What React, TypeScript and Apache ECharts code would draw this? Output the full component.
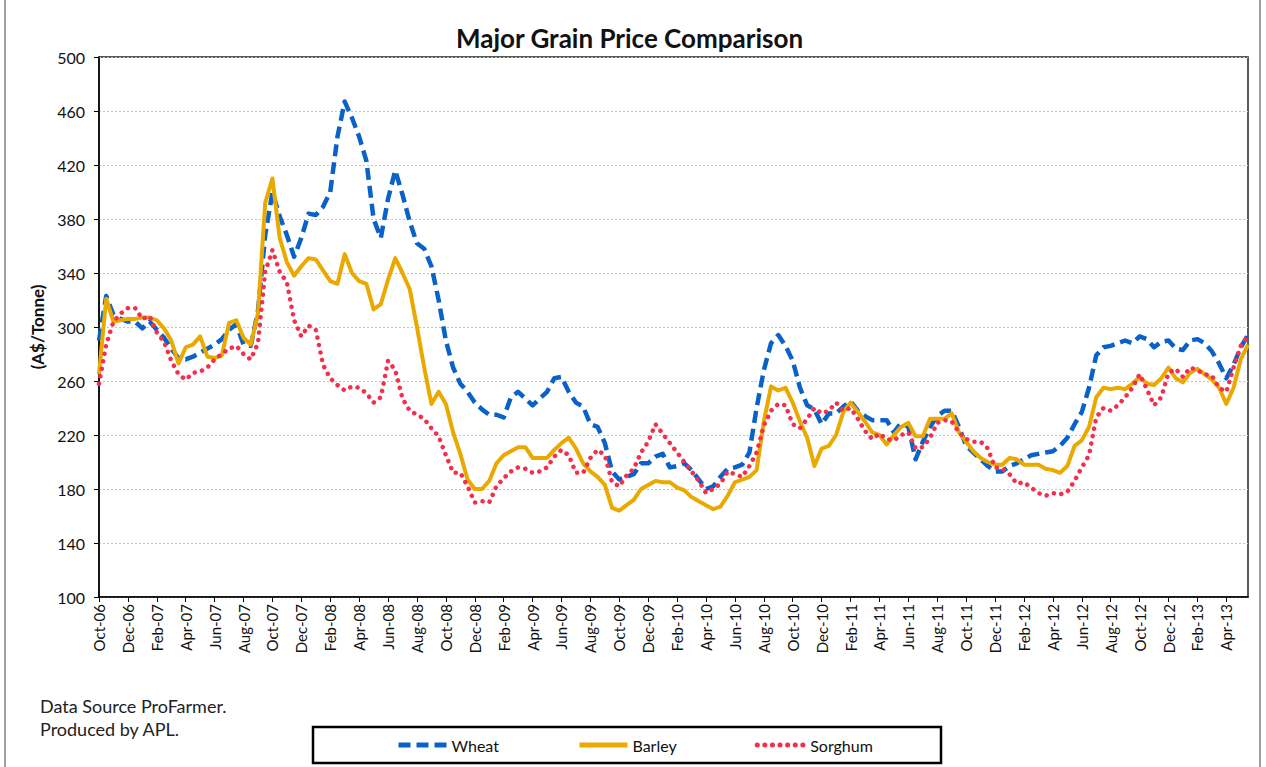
import React, { useEffect, useRef } from "react";
import * as echarts from "echarts";

// Half-monthly observations from Oct-06 to mid May-13
const MONTH_NAMES = ["Jan", "Feb", "Mar", "Apr", "May", "Jun", "Jul", "Aug", "Sep", "Oct", "Nov", "Dec"];
const START_MONTH = 9; // Oct
const START_YEAR = 6; // 2006
const POINT_COUNT = 160;

const categories: string[] = [];
for (let i = 0; i < POINT_COUNT; i++) {
  const m = START_MONTH + Math.floor(i / 2);
  const label = MONTH_NAMES[m % 12] + "-" + String(START_YEAR + Math.floor(m / 12)).padStart(2, "0");
  categories.push(i % 2 === 0 ? label : label + " mid");
}

const yTicks = { min: 100, max: 500, interval: 40 };

const wheat = [
  290, 323, 309, 306, 304, 304, 299, 304, 298, 292,
  284, 277, 276, 278, 281, 284, 287, 291, 298, 302,
  287, 286, 312, 368, 400, 382, 368, 352, 366, 384,
  383, 389, 400, 441, 467, 455, 441, 423, 380, 366,
  395, 416, 398, 378, 362, 358, 345, 320, 290, 270,
  258, 252, 244, 239, 235, 235, 233, 248, 252, 247,
  242, 247, 252, 262, 263, 252, 244, 241, 228, 226,
  214, 193, 187, 189, 191, 199, 199, 204, 206, 196,
  197, 199, 194, 187, 180, 182, 189, 195, 196, 198,
  207, 240, 268, 288, 294, 286, 275, 255, 242, 239,
  228, 236, 236, 241, 245, 238, 234, 231, 231, 231,
  222, 229, 226, 202, 215, 226, 234, 238, 238, 226,
  212, 207, 202, 197, 193, 193, 197, 199, 202, 205,
  206, 207, 208, 212, 218, 228, 237, 255, 279, 285,
  286, 288, 290, 288, 293, 291, 285, 289, 290, 284,
  283, 290, 291, 288, 282, 273, 262, 272, 285, 294,
];

const barley = [
  265, 321, 304, 305, 306, 306, 307, 307, 305, 299,
  290, 273, 285, 287, 293, 278, 277, 279, 303, 305,
  292, 287, 310, 392, 410, 366, 348, 338, 345, 351,
  350, 342, 334, 332, 354, 340, 334, 332, 313, 317,
  335, 351, 340, 328, 300, 270, 243, 252, 243, 222,
  206, 187, 180, 180, 186, 199, 205, 208, 211, 211,
  203, 203, 203, 209, 214, 218, 210, 199, 193, 189,
  183, 166, 164, 168, 172, 180, 183, 186, 185, 185,
  181, 179, 174, 171, 168, 165, 167, 175, 185, 187,
  189, 194, 230, 256, 253, 255, 244, 230, 218, 197,
  210, 212, 220, 237, 244, 237, 230, 222, 220, 213,
  220, 226, 229, 219, 219, 232, 232, 232, 236, 222,
  215, 208, 203, 200, 198, 198, 203, 202, 198, 198,
  198, 195, 194, 192, 197, 212, 216, 226, 248, 255,
  254, 255, 254, 258, 263, 258, 257, 262, 270, 262,
  259, 266, 269, 265, 261, 255, 243, 255, 276, 287,
];

const sorghum = [
  258, 287, 304, 310, 314, 314, 306, 308, 296, 289,
  275, 265, 261, 266, 267, 270, 276, 280, 284, 286,
  280, 276, 288, 341, 357, 341, 333, 305, 293, 301,
  298, 272, 262, 257, 253, 256, 255, 251, 244, 248,
  275, 268, 247, 238, 235, 232, 225, 219, 205, 192,
  192, 182, 170, 171, 170, 182, 188, 193, 196, 195,
  192, 193, 196, 204, 209, 205, 192, 192, 203, 209,
  205, 185, 182, 190, 195, 207, 215, 228, 221, 214,
  207, 200, 193, 186, 177, 180, 184, 193, 191, 189,
  197, 207, 227, 238, 243, 242, 228, 225, 232, 240,
  236, 238, 244, 238, 240, 232, 223, 217, 221, 217,
  216, 220, 222, 210, 211, 218, 229, 231, 230, 222,
  217, 215, 215, 210, 196, 195, 191, 184, 185, 181,
  177, 175, 177, 176, 178, 186, 196, 205, 233, 240,
  238, 242, 248, 255, 265, 254, 242, 248, 266, 269,
  263, 270, 268, 265, 264, 255, 252, 270, 286, 293,
];

const FONT = "Lato, 'Open Sans', sans-serif";

export default function App() {
  const ref = useRef<HTMLDivElement>(null);

  useEffect(() => {
    document.body.style.margin = "0";
    if (!ref.current) return;
    const chart = echarts.init(ref.current, null, { renderer: "svg" });
    const tickEvery = (idx: number) => idx % 4 === 0;

    chart.setOption({
      animation: false,
      backgroundColor: "#ffffff",
      textStyle: { fontFamily: FONT },
      title: {
        text: "Major Grain Price Comparison",
        left: 451,
        top: 20,
        textStyle: { fontFamily: FONT, fontSize: 26, fontWeight: "bold", color: "#111" },
      },
      grid: {
        left: 99,
        right: 18,
        top: 57,
        height: 540,
        show: true,
        borderColor: "#222",
        borderWidth: 1.5,
        backgroundColor: "#ffffff",
      },
      legend: {
        left: 391,
        top: 732,
        itemWidth: 48,
        itemHeight: 16,
        itemGap: 78,
        itemStyle: { opacity: 0 },
        lineStyle: { width: 5 },
        textStyle: { fontFamily: FONT, fontSize: 16, color: "#111" },
        data: ["Wheat", "Barley", "Sorghum"],
      },
      xAxis: {
        type: "category",
        data: categories,
        boundaryGap: false,
        axisLine: { lineStyle: { color: "#000", width: 1.5 } },
        axisTick: { show: true, interval: tickEvery, length: 5, lineStyle: { color: "#000" } },
        axisLabel: {
          interval: tickEvery,
          rotate: 90,
          margin: 7,
          fontFamily: FONT,
          fontSize: 15,
          color: "#111",
        },
        splitLine: { show: false },
      },
      yAxis: {
        type: "value",
        min: yTicks.min,
        max: yTicks.max,
        interval: yTicks.interval,
        name: "(A$/Tonne)",
        nameLocation: "middle",
        nameGap: 53,
        nameRotate: 90,
        nameTextStyle: { fontFamily: FONT, fontSize: 17, fontWeight: "bold", color: "#111" },
        axisLine: { show: true, lineStyle: { color: "#000", width: 1.5 } },
        axisTick: { show: true, length: 5, lineStyle: { color: "#000" } },
        axisLabel: { margin: 14, fontFamily: FONT, fontSize: 16, color: "#111" },
        splitLine: { show: true, lineStyle: { color: "#c4c4c4", type: [2, 2], width: 1 } },
      },
      graphic: [
        {
          type: "rect",
          shape: { x: 5, y: -5, width: 1255, height: 780 },
          style: { fill: "none", stroke: "#a0a0a0", lineWidth: 2 },
          silent: true,
          z: -1,
        },
        {
          type: "rect",
          shape: { x: 313, y: 727, width: 628, height: 36 },
          style: { fill: "none", stroke: "#000", lineWidth: 2.5 },
          silent: true,
        },
        {
          type: "text",
          x: 40,
          y: 697,
          style: { text: "Data Source ProFarmer.", fontFamily: FONT, fontSize: 18, fill: "#222" },
        },
        {
          type: "text",
          x: 40,
          y: 720,
          style: { text: "Produced by APL.", fontFamily: FONT, fontSize: 18, fill: "#222" },
        },
      ],
      series: [
        {
          name: "Wheat",
          type: "line",
          data: wheat,
          symbol: "none",
          lineStyle: { color: "#0a62c9", width: 4.5, type: [12, 6], cap: "butt", join: "round" },
          itemStyle: { color: "#0a62c9" },
        },
        {
          name: "Barley",
          type: "line",
          data: barley,
          symbol: "none",
          lineStyle: { color: "#eaa900", width: 4, type: "solid", join: "round" },
          itemStyle: { color: "#eaa900" },
        },
        {
          name: "Sorghum",
          type: "line",
          data: sorghum,
          symbol: "none",
          lineStyle: { color: "#f2304e", width: 4.5, type: [0.1, 7.5], cap: "round", join: "round" },
          itemStyle: { color: "#f2304e" },
        },
      ],
    });

    return () => chart.dispose();
  }, []);

  return <div ref={ref} style={{ width: 1266, height: 767 }} />;
}
